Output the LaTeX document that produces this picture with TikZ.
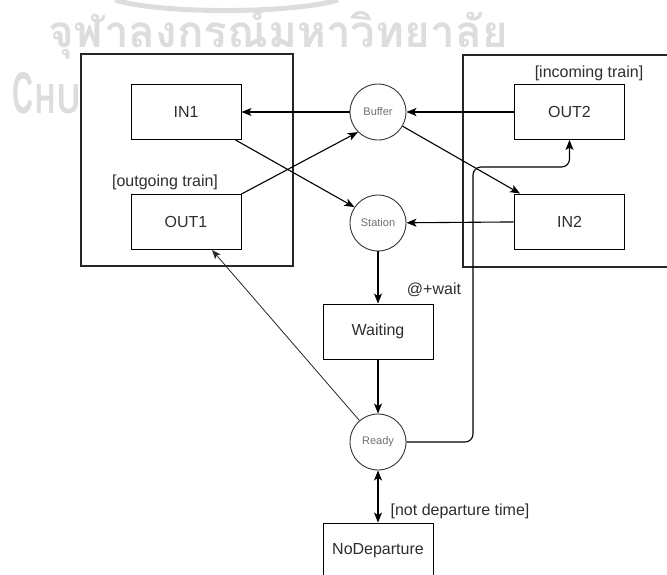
\documentclass[tikz,border=0pt]{standalone}
\usepackage{fontspec}
\setmainfont{Liberation Sans}
\newfontfamily\thaifont[Script=Thai]{Loma}
\usetikzlibrary{arrows.meta}
\definecolor{wm}{HTML}{DDDDDD}
\definecolor{txt}{HTML}{2E2E2E}
\definecolor{ctxt}{HTML}{707070}
\tikzset{
  stbox/.style={draw=black, line width=0.95pt, fill=white, minimum width=110pt, minimum height=55pt,
    inner sep=0pt, text=txt, font=\fontsize{16}{19}\selectfont},
  place/.style={circle, draw=black!80, line width=0.9pt, fill=white, minimum size=56pt, inner sep=0pt,
    text=ctxt, font=\fontsize{11}{13}\selectfont},
  frame/.style={draw=black!85, line width=1.1pt, fill=white},
  guard/.style={text=txt, font=\fontsize{16}{19}\selectfont, inner sep=0pt},
  arc/.style={line width=1.1pt, -{Stealth[length=10pt,width=8pt,inset=2.5pt]}},
  thinarc/.style={draw=black!85, line width=0.8pt, -{Stealth[length=9pt,width=7pt,inset=2pt]}},
  watermark/.style={text=wm, inner sep=0pt}
}
\begin{document}
\begin{tikzpicture}[x=1pt,y=-1pt]
\useasboundingbox (0,0) rectangle (667,574);
\clip (0,0) rectangle (667,574);

% faint heading mark
\node[watermark, anchor=base west, font=\thaifont\bfseries\fontsize{44}{46}\selectfont] (wmthai) at (48,47) {จุฬาลงกรณ์มหาวิทยาลัย};
\node[watermark, anchor=base west, font=\bfseries] (wmchu) at (12,113)
  {\resizebox{21pt}{41pt}{C}\hspace{2pt}\resizebox{20pt}{29pt}{H}\hspace{2pt}\resizebox{23pt}{29pt}{U}};
\draw[wm, line width=5pt] (115,0) .. controls (160,14) and (290,14) .. (338,0);

% station frames
\path[frame] (81,54) rectangle (293,266);
\path[frame] (463,55) rectangle (690,267);

% places
\node[place] (Buffer) at (378,112) {Buffer};
\node[place] (Station) at (378,223) {Station};
\node[place] (Ready) at (378,442) {Ready};

% boxes
\node[stbox] (IN1) at (186,112) {IN1};
\node[stbox] (OUT1) at (186,222) {OUT1};
\node[stbox] (OUT2) at (569.5,112) {OUT2};
\node[stbox] (IN2) at (569.5,221.5) {IN2};
\node[stbox] (Waiting) at (378,331.5) {Waiting};
\node[stbox] (NoDep) at (378,550.5) {NoDeparture};

% guards and labels
\node[guard] (gout) at (165,182) {[outgoing train]};
\node[guard] (ginc) at (589,73) {[incoming train]};
\node[guard] (gwait) at (434,290) {@+wait};
\node[guard] (gnot) at (460,511) {[not departure time]};

% connectors
\draw[arc] (Buffer) -- (IN1);
\draw[arc] (OUT2) -- (Buffer);
\draw[arc] ([xshift=-6pt]IN1.south east) -- (Station.146);
\draw[arc] (OUT1.north east) -- (Buffer.south west);
\draw[arc] (Buffer.-30) -- ([xshift=6pt]IN2.north west);
\draw[arc] (IN2) -- (Station);
\draw[arc] (Station) -- (Waiting);
\draw[arc] (Waiting) -- (Ready);
\draw[thinarc] (Ready) -- ([xshift=26pt]OUT1.south);
\draw[arc, rounded corners=8pt] (Ready.east) -| (473,167) -| (OUT2.south);
\draw[line width=1.1pt, {Stealth[length=10pt,width=8pt,inset=2.5pt]}-{Stealth[length=10pt,width=8pt,inset=2.5pt]}] (Ready) -- (NoDep);
\end{tikzpicture}
\end{document}
